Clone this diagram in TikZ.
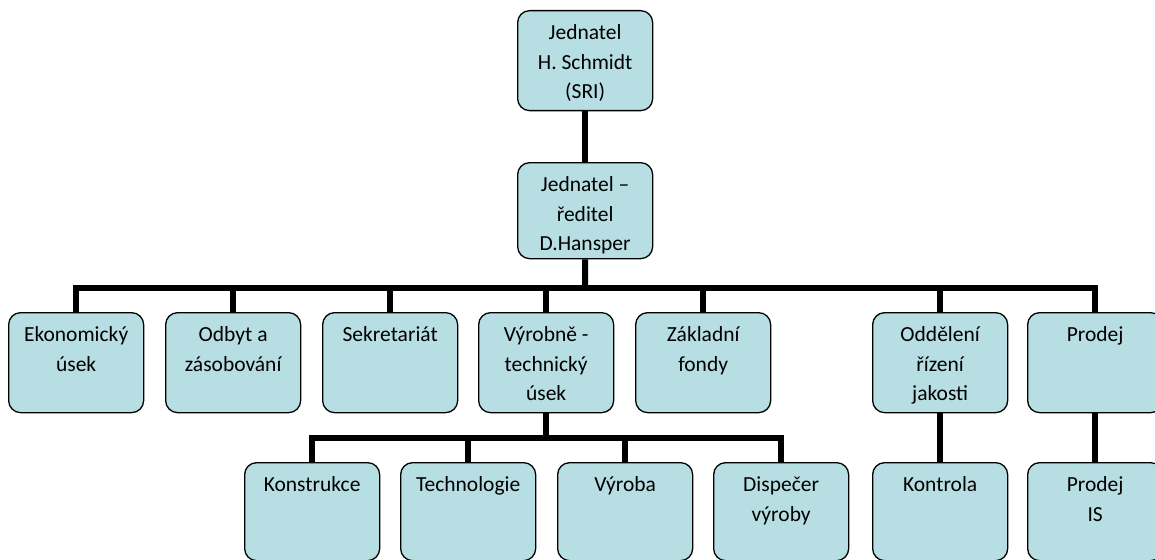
\documentclass[tikz,border=0pt]{standalone}
\usepackage{fontspec}
\setmainfont{Carlito}
\definecolor{boxfill}{RGB}{183,222,226}
\newcommand{\bt}[2]{\parbox[c][#1][t]{135pt}{\vspace*{8.5pt}\centering\fontsize{21.5}{29.5}\selectfont\strut #2}}
\tikzset{
  box/.style={draw=black, fill=boxfill, line width=1.3pt, rounded corners=12pt,
              inner sep=0pt, anchor=north west},
  conn/.style={line width=6pt, line join=miter}
}
\begin{document}
\begin{tikzpicture}[x=1pt,y=-1pt]
\clip (0,0) rectangle (1155,559);
\fill[white] (0,0) rectangle (1155,559);
% top
\node[box] (t) at (517,10) {\bt{100pt}{Jednatel\\H. Schmidt\\(SRI)}};
\node[box] (m) at (517,162) {\bt{96pt}{Jednatel –\\ředitel\\D.Hansper}};
% level 2
\node[box] (ek) at (8,312) {\bt{100pt}{Ekonomický\\úsek}};
\node[box] (od) at (165,312) {\bt{100pt}{Odbyt a\\zásobování}};
\node[box] (se) at (322,312) {\bt{100pt}{Sekretariát}};
\node[box] (vt) at (478,312) {\bt{100pt}{Výrobně -\\technický\\úsek}};
\node[box] (zf) at (635,312) {\bt{100pt}{Základní\\fondy}};
\node[box] (oj) at (872,312) {\bt{100pt}{Oddělení\\řízení\\jakosti}};
\node[box] (pr) at (1027,312) {\bt{100pt}{Prodej}};
% level 3
\node[box] (ko) at (244,462) {\bt{98pt}{Konstrukce}};
\node[box] (te) at (400,462) {\bt{98pt}{Technologie}};
\node[box] (vy) at (557,462) {\bt{98pt}{Výroba}};
\node[box] (di) at (713,462) {\bt{98pt}{Dispečer\\výroby}};
\node[box] (kt) at (872,462) {\bt{98pt}{Kontrola}};
\node[box] (pis) at (1027,462) {\bt{98pt}{Prodej\\IS}};
% bars
\coordinate (bar2) at (585,287.5);
\coordinate (bar3) at (545.5,438);
\draw[conn] (t.south) -- (m.north);
\draw[conn] (m.south) -- (bar2);
\draw[conn] (ek.north) |- (bar2) -| (pr.north);
\draw[conn] (od.north) |- (bar2);
\draw[conn] (se.north) |- (bar2);
\draw[conn] (vt.north) |- (bar2);
\draw[conn] (zf.north) |- (bar2);
\draw[conn] (oj.north) |- (bar2);
\draw[conn] (vt.south) -- (vt.south |- bar3);
\draw[conn] (ko.north) |- (bar3) -| (di.north);
\draw[conn] (te.north) |- (bar3);
\draw[conn] (vy.north) |- (bar3);
\draw[conn] (oj.south) -- (kt.north);
\draw[conn] (pr.south) -- (pis.north);
\end{tikzpicture}
\end{document}
